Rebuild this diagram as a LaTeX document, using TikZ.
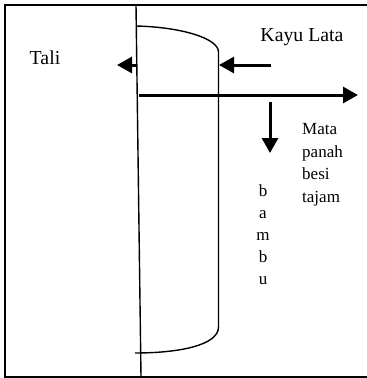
\documentclass[tikz,border=0pt]{standalone}
\usepackage{fontspec}
\setmainfont{Liberation Serif}
\usetikzlibrary{arrows.meta}

\begin{document}
\begin{tikzpicture}[x=1pt,y=-1pt,>={Triangle[length=15pt,width=16pt]},
    frame line/.style={line width=2pt},
    thin line/.style={line width=1.4pt},
    big arrow/.style={->,line width=3pt},
    big label/.style={font=\fontsize{19.8}{22}\selectfont,inner sep=0pt},
    small label/.style={font=\fontsize{17}{22.4}\selectfont,inner sep=0pt,anchor=north}]
   \useasboundingbox (0,0) rectangle (367,378);
   % frame
   \coordinate (tr) at (367,5);
   \coordinate (tl) at (5,5);
   \coordinate (bl) at (5,376.5);
   \coordinate (br) at (367,376.5);
   \draw[frame line] (tr) -- (tl) -- (bl) -- (br);
   % tali
   \coordinate (t1) at (136,5);
   \coordinate (t2) at (141,376.5);
   \draw[thin line] (t1) -- (t2);
   % bambu
   \coordinate (b1) at (136,26);
   \coordinate (b2) at (218.5,52);
   \coordinate (b3) at (218.5,327);
   \coordinate (b4) at (135,353);
   \draw[thin line] (b1) .. controls (180,27) and (218.5,38) .. (b2) -- (b3)
      .. controls (218.5,345) and (180,353) .. (b4);
   % arrows
   \coordinate (a1) at (137,65);
   \coordinate (a2) at (117,65);
   \coordinate (k1) at (271,65);
   \coordinate (k2) at (219,65);
   \coordinate (m1) at (139,95);
   \coordinate (m2) at (358,95);
   \coordinate (d1) at (270,102);
   \coordinate (d2) at (270,153);
   \path[big arrow] (a1) edge (a2);
   \path[big arrow] (k1) edge (k2);
   \path[big arrow] (m1) edge (m2);
   \path[big arrow] (d1) edge (d2);
   % labels
   \node[big label] (tali) at (45,58) {Tali};
   \node[big label] (kayu) at (302,37.5) {Kayu Lata};
   \node[small label,anchor=north west,align=left] (mata) at (302,123.5) {Mata\\panah\\besi\\tajam};
   \node[small label,align=center,font=\fontsize{17}{22}\selectfont] (bambu) at (263,184.5) {b\\a\\m\\b\\u};
\end{tikzpicture}
\end{document}
